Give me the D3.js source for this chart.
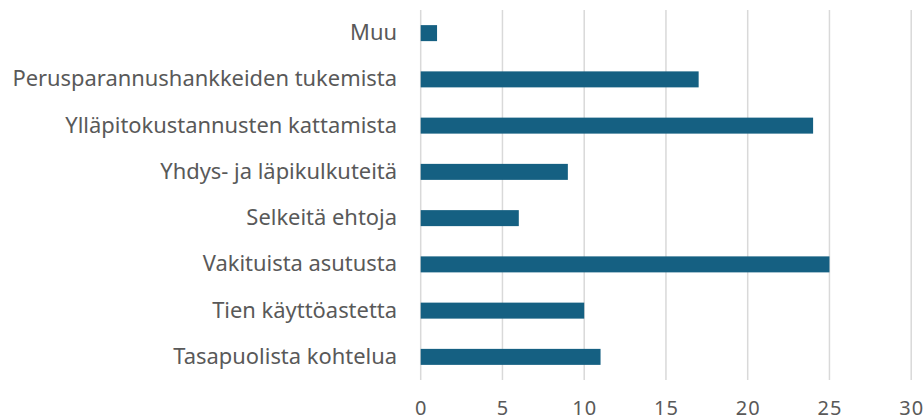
<!DOCTYPE html>
<html><head><meta charset="utf-8">
<script src="https://cdn.jsdelivr.net/npm/d3@7"></script>
<style>body{margin:0;background:#fff}svg{display:block}</style>
</head><body>
<script>
const categories = ["Muu","Perusparannushankkeiden tukemista","Ylläpitokustannusten kattamista","Yhdys- ja läpikulkuteitä","Selkeitä ehtoja","Vakituista asutusta","Tien käyttöastetta","Tasapuolista kohtelua"];
const values = [1,17,24,9,6,25,10,11];
const tickValues = [0,5,10,15,20,25,30];

const W = 923, H = 419;
const svg = d3.select("body").append("svg").attr("width",W).attr("height",H);
const x = d3.scaleLinear().domain([0,30]).range([420.7, 911.2]);
const y = d3.scaleBand().domain(categories).range([10,380]).paddingInner(0.654).paddingOuter(0.327);
const font = "'Noto Sans', 'Open Sans', sans-serif";

svg.append("g").selectAll("line").data(tickValues).join("line")
  .attr("x1",d=>x(d)).attr("x2",d=>x(d)).attr("y1",10).attr("y2",380)
  .attr("stroke","#d9d9d9").attr("stroke-width",1.5);

svg.append("g").selectAll("rect").data(categories).join("rect")
  .attr("x",x(0)).attr("y",d=>y(d)).attr("height",y.bandwidth())
  .attr("width",(d,i)=>x(values[i])-x(0)).attr("fill","#156082");

const xa = svg.append("g").attr("transform","translate(0,401)")
  .call(d3.axisBottom(x).tickValues(tickValues).tickSize(0).tickPadding(0));
xa.select(".domain").remove();
xa.selectAll("text").attr("font-family",font).attr("font-size",20).attr("letter-spacing",1)
  .attr("fill","#595959").attr("dy","0.71em");

const ya = svg.append("g").attr("transform","translate(397,0)")
  .call(d3.axisLeft(y).tickSize(0).tickPadding(0));
ya.select(".domain").remove();
const lbl = ya.selectAll("text").attr("font-family",font).attr("font-size",17).attr("fill","#595959");
let maxW = 0; lbl.each(function(){maxW=Math.max(maxW,this.getComputedTextLength());});
const fs = 17*385/maxW;
lbl.attr("font-size",fs);
</script>
</body></html>
